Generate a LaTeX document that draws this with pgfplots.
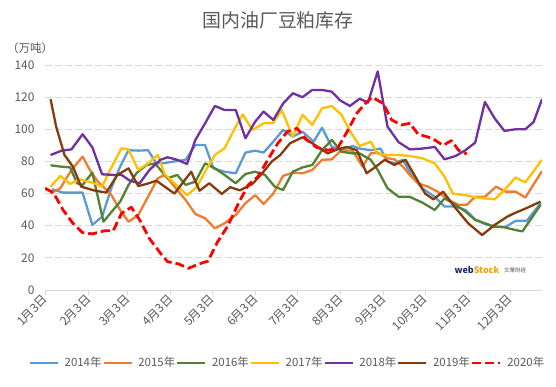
\documentclass[border=0pt]{standalone}
\usepackage{fontspec}
\setmainfont{Noto Sans CJK SC}
\usepackage{pgfplots}
\pgfplotsset{compat=1.18}
\definecolor{c14}{HTML}{5B9BD5}
\definecolor{c15}{HTML}{ED7D31}
\definecolor{c16}{HTML}{548235}
\definecolor{c17}{HTML}{FFC000}
\definecolor{c18}{HTML}{7030A0}
\definecolor{c19}{HTML}{843C0C}
\definecolor{c20}{HTML}{FF0000}
\definecolor{txt}{HTML}{595959}
\definecolor{gridc}{HTML}{D9D9D9}
\definecolor{wsnavy}{HTML}{1F2A6B}
\definecolor{wsgold}{HTML}{E8A317}
\begin{document}
\begin{tikzpicture}
\path[use as bounding box] (-45bp,-97bp) rectangle (511bp,290bp);
\begin{axis}[
  at={(0,0)}, anchor=south west,
  scale only axis, width=497bp, height=225bp,
  xmin=0, xmax=357, ymin=0, ymax=140,
  xtick={0,31,59,90,120,151,181,212,243,273,304,334},
  xticklabels={1月3日,2月3日,3月3日,4月3日,5月3日,6月3日,7月3日,8月3日,9月3日,10月3日,11月3日,12月3日},
  ytick={0,20,...,140},
  axis x line*=bottom, axis y line*=left,
  x axis line style={draw=gridc, line width=0.75bp, -},
  y axis line style={draw=none},
  ymajorgrids,
  major grid style={draw=gridc, line width=0.75bp, dash pattern=on 7bp off 3bp},
  xtick style={draw=gridc, line width=0.75bp},
  ytick style={draw=none},
  tick align=outside, major tick length=5bp,
  tick label style={font=\fontsize{12}{14}\selectfont, text=txt},
  /pgf/number format/assume math mode=true,
  xticklabel style={rotate=45, anchor=east, xshift=2bp, yshift=-2bp},
  yticklabel style={xshift=-2bp},
  legend style={at={(0.487,-0.324)}, anchor=center, draw=none, fill=none,
    font=\fontsize{11.5}{13}\selectfont, text=txt, inner sep=0pt,
    nodes={inner sep=1bp},
    /tikz/every even column/.append style={column sep=0bp},
    /tikz/every odd column/.append style={column sep=4.5bp}},
  legend columns=7,
  legend image code/.code={\draw[#1] (0bp,0bp) -- (28bp,0bp);},
  every axis plot/.append style={no markers, line width=2.3bp, line join=round},
]
\addplot[c14] coordinates {(5,62.7)(13,60.6)(27,60.6)(34,40.5)(41,45.6)(48,64.3)(54,76.8)(60,87)(67,86.7)(74,87)(80,78.8)(86,79)(93,80)(101,81)(108,90.2)(115,90.2)(121,75.7)(129,73.6)(137,72.6)(144,85.5)(151,86.7)(157,85.5)(164,92.3)(171,99.6)(178,95.4)(185,98.5)(193,92.3)(199,101)(206,89)(213,87.5)(221,89.6)(226,88)(234,87)(241,88)(246,80)(251,79)(257,81)(264,70.5)(271,63.3)(280,58)(287,51.9)(295,51.9)(302,49.8)(309,44)(316,41)(323,39.4)(331,39.4)(338,43)(346,43)(356,54)};
\addlegendentry{2014年}
\addplot[c15] coordinates {(4,60)(11,63.3)(19,74.7)(27,83)(32,75)(38,67.4)(47,60)(54,49.8)(60,42.5)(67,46.7)(74,58)(81,69.5)(86,71.6)(93,64.3)(101,56)(108,47.3)(115,44.6)(122,38.4)(129,41.5)(137,46.7)(144,54)(151,59)(157,53.5)(164,60)(171,71)(178,73)(185,72.6)(192,74.7)(199,81)(206,81.3)(213,87)(221,86.7)(228,76.8)(234,85)(239,85.5)(246,82)(251,81.3)(257,76.8)(262,71.6)(268,66.4)(275,64.3)(282,61.2)(290,56)(297,53)(303,53)(309,58)(316,58)(324,64.3)(331,61.2)(338,61.2)(345,57.5)(357,74)};
\addlegendentry{2015年}
\addplot[c16] coordinates {(4,77.6)(11,76.8)(18,76.3)(23,66.4)(27,65.4)(34,73)(42,42.5)(48,48.8)(54,55)(60,65.4)(66,73)(73,77.8)(79,78.8)(88,69.5)(95,71.6)(101,65.4)(108,67.4)(115,78.8)(122,75.7)(129,71.6)(137,66.4)(144,72.2)(151,73.6)(158,71.6)(165,64.3)(171,62.2)(178,73.6)(185,76.3)(192,77.8)(199,87)(206,93.4)(213,86)(221,85)(226,85)(234,81)(239,74.7)(246,63.3)(254,58)(262,58)(271,54.4)(280,49.8)(287,57)(295,53)(302,48.8)(309,43.6)(316,41.5)(323,39.4)(330,39)(338,37.3)(343,36.5)(356,53)};
\addlegendentry{2016年}
\addplot[c17] coordinates {(4,64.3)(11,71)(18,66)(25,68.9)(34,66.8)(41,64.3)(48,76.8)(55,88.2)(60,87.5)(67,74.7)(74,78.8)(81,84)(86,72)(93,66.4)(102,59)(109,64)(115,73.6)(122,84)(129,88.2)(137,101.7)(142,109.3)(149,99.6)(157,103.7)(164,104)(170,112)(178,95.4)(185,109)(192,102.7)(199,113)(206,114.5)(213,109)(219,99)(226,89.6)(234,92.3)(239,84.6)(246,84)(254,84)(262,83.4)(271,82)(280,78.8)(287,70.5)(293,60)(302,59)(309,57.7)(316,57)(323,56.4)(329,61.2)(338,70)(345,67)(357,81)};
\addlegendentry{2017年}
\addplot[c18] coordinates {(4,84)(12,86.7)(19,87.5)(27,96.9)(34,88.8)(41,72)(49,71.6)(55,71.6)(61,68)(68,66.4)(75,74.7)(83,81)(88,82.6)(95,81)(102,78.4)(108,93.4)(115,103.7)(122,114.5)(129,112)(137,112)(144,94.4)(151,104.8)(157,111)(164,105.8)(171,116)(178,122.4)(185,120)(192,124.5)(199,124.5)(206,123.4)(212,118)(219,114.5)(226,119)(232,116.6)(239,136)(246,101.7)(254,92)(262,87.5)(271,88)(280,89)(287,81.3)(295,83.4)(302,87)(309,91.7)(316,117)(323,106.8)(330,99)(338,100)(345,100)(351,104.6)(357,118.7)};
\addlegendentry{2018年}
\addplot[c19] coordinates {(4,118.7)(8,101.7)(14,84)(20,76.8)(26,64.3)(35,62)(44,60.6)(52,71.6)(60,75.7)(67,64.7)(73,66)(80,68)(86,64.3)(93,60)(105,73.6)(111,61.8)(118,66.4)(127,59.8)(133,64)(140,62)(149,66)(156,72.6)(163,80)(169,84)(176,91.3)(185,95)(192,91.3)(203,85)(210,87.5)(217,89)(224,87)(231,72.6)(238,77)(244,81)(251,77.8)(259,81)(266,70.5)(273,60)(279,56.4)(286,61.2)(294,51.9)(304,41.5)(314,34.2)(323,40.5)(332,45.6)(337,47.7)(346,51)(356,55)};
\addlegendentry{2019年}
\addplot[c20, line width=2.8bp, dash pattern=on 9bp off 4bp] coordinates {(0,63.3)(6,60.6)(13,49.8)(20,41.5)(27,35.7)(34,34.9)(43,36.9)(49,36.9)(55,47.7)(62,51.5)(68,43.6)(75,32)(83,22.8)(88,17.6)(96,16.2)(103,13.5)(110,16)(117,18)(124,30)(131,39.4)(139,54)(146,65.4)(153,70.5)(160,81)(167,91)(174,98.5)(181,100.6)(188,93.4)(195,88.8)(203,87)(210,88)(217,98.5)(224,110)(230,116)(235,120)(243,116)(249,105.8)(256,102.7)(262,103.7)(268,97)(278,94.4)(286,90)(292,93)(297,87)(303,84.6)};
\addlegendentry{2020年}
\node[font=\bfseries\fontsize{9}{10}\selectfont, inner sep=0pt] at (rel axis cs:0.869,0.089) {\textcolor{wsnavy}{web}\textcolor{wsgold}{Stock}};
\node[font=\fontsize{5.5}{6}\selectfont, text=txt, inner sep=0pt] at (rel axis cs:0.946,0.085) {文華財經};
\end{axis}
\node[font=\fontsize{19}{22}\selectfont, text=txt] at (233bp,270bp) {国内油厂豆粕库存};
\node[anchor=west, font=\fontsize{11.5}{13}\selectfont, text=txt, inner sep=0pt] at (-38bp,242bp) {（万吨）};
\end{tikzpicture}
\end{document}
